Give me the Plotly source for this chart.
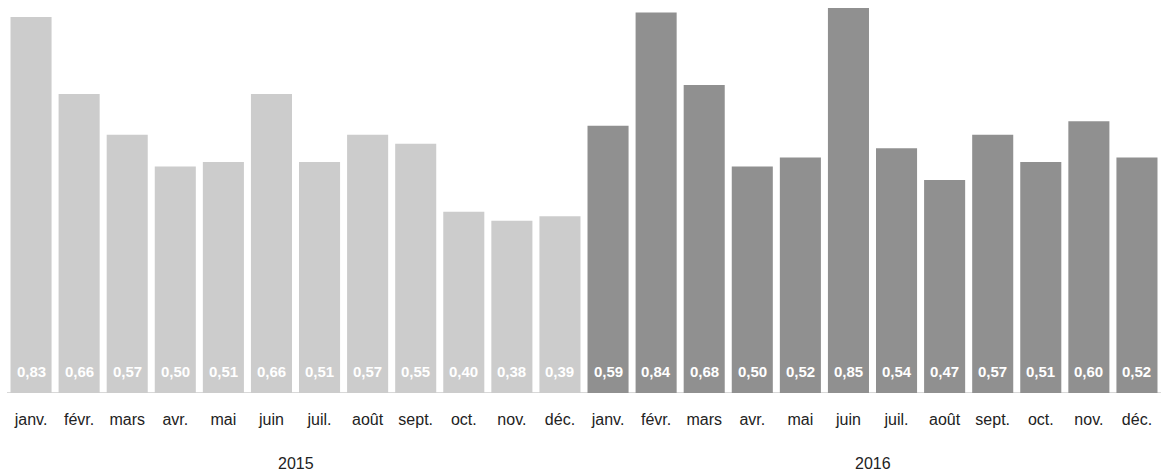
import plotly.graph_objects as go

# monthly values, 2015 then 2016
MONTHS = ["janv.", "févr.", "mars", "avr.", "mai", "juin",
          "juil.", "août", "sept.", "oct.", "nov.", "déc."]
YEARS = ["2015", "2016"]
VALUES_2015 = [0.83, 0.66, 0.57, 0.50, 0.51, 0.66, 0.51, 0.57, 0.55, 0.40, 0.38, 0.39]
VALUES_2016 = [0.59, 0.84, 0.68, 0.50, 0.52, 0.85, 0.54, 0.47, 0.57, 0.51, 0.60, 0.52]

LIGHT = "#cccccc"
DARK = "#909090"
FONT = "Liberation Sans, Arial, Helvetica, sans-serif"

values = VALUES_2015 + VALUES_2016
xs = list(range(len(values)))
colors = [LIGHT] * len(VALUES_2015) + [DARK] * len(VALUES_2016)

fig = go.Figure(go.Bar(
    x=xs, y=values,
    marker=dict(color=colors, line=dict(width=0)),
    hoverinfo="skip",
))

# value labels at the foot of each bar
for x, v in zip(xs, values):
    fig.add_annotation(
        x=x, y=0, yanchor="bottom", yshift=11,
        text="<b>" + f"{v:.2f}".replace(".", ",") + "</b>",
        showarrow=False,
        font=dict(family=FONT, size=15, color="white"),
    )

# year labels under each group of months
for i, yr in enumerate(YEARS):
    fig.add_annotation(
        x=i * 12 + 5.5, y=0, yref="paper", yanchor="middle", yshift=-70,
        text=yr, showarrow=False,
        font=dict(family=FONT, size=16, color="#222222"),
    )

# baseline
fig.add_shape(type="line", xref="paper", x0=0, x1=1, y0=0, y1=0,
              line=dict(color="#d8d8d8", width=2), layer="below")

fig.update_layout(
    width=1162, height=474,
    margin=dict(l=7, r=1, t=0, b=81),
    plot_bgcolor="white", paper_bgcolor="white",
    bargap=0.146,
    showlegend=False,
    font=dict(family=FONT, size=16, color="#222222"),
)
fig.update_xaxes(
    range=[-0.5, 23.5], tickvals=xs, ticktext=MONTHS * 2,
    showgrid=False, zeroline=False, showline=False, ticks="",
    ticklabelstandoff=15,
)
fig.update_yaxes(range=[0, 0.8675], visible=False)

fig.write_html("out.html", config={"displayModeBar": False},
               post_script="document.body.style.margin='0';")
